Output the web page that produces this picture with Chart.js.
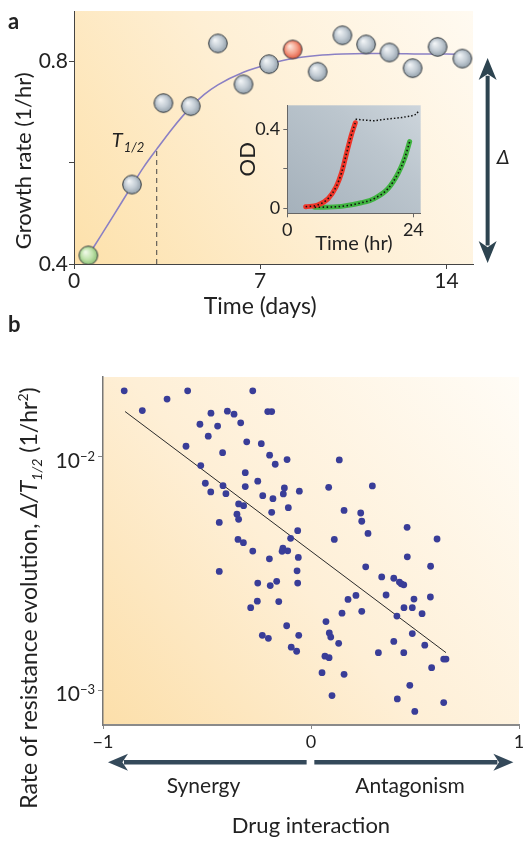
<!DOCTYPE html>
<html><head><meta charset="utf-8">
<script src="https://cdn.jsdelivr.net/npm/chart.js@4"></script>
<style>
body{margin:0;background:#fff;}
#wrap{position:relative;width:531px;height:848px;overflow:hidden;}
canvas{position:absolute;}
</style></head><body>
<div id="wrap">
<canvas id="ca" width="531" height="320" style="left:0px;top:0px"></canvas>
<canvas id="cb" width="531" height="548" style="left:0px;top:300px"></canvas>
<canvas id="ci" width="200" height="160" style="left:230px;top:95px"></canvas>
</div>
<script>
// ---------- Panel a data ----------
const days   = [2.18, 3.36, 4.39, 5.41, 6.37, 7.33, 9.16, 10.09, 10.98, 11.86, 12.73, 13.67, 14.60];
const growth = [0.557, 0.718, 0.712, 0.836, 0.755, 0.795, 0.780, 0.852, 0.834, 0.818, 0.787, 0.829, 0.806];
const firstDay = [0.54], firstGrowth = [0.417];
const pickDay = [8.22], pickGrowth = [0.824];
const fitDays   = [0.54, 1.0, 1.5, 2.18, 2.6, 3.11, 3.7, 4.39, 4.9, 5.41, 6.37, 7.33, 8.22, 9.14, 10.09, 11, 12, 13, 14, 14.6];
const fitGrowth = [0.417, 0.455, 0.497, 0.555, 0.590, 0.627, 0.668, 0.710, 0.735, 0.754, 0.779, 0.795, 0.806, 0.812, 0.815, 0.816, 0.816, 0.815, 0.815, 0.814];
const halfDay = [3.11, 3.11], halfGrowth = [0.4, 0.627];
const deltaSpan = [0.4, 0.807];
const xTicksA = [0, 7, 14], xLabelsA = ['0', '7', '14'];
const yTicksA = [0.4, 0.6, 0.8], yLabelsA = ['0.4', '', '0.8'];

// ---------- Inset data ----------
const redHr = [3.5, 5.8, 7.8, 9.3, 10.3, 11.2, 12.2, 12.95];
const redOD = [0.008, 0.017, 0.05, 0.109, 0.177, 0.269, 0.370, 0.432];
const greenHr = [5.2, 10.3, 14.1, 16.6, 19.2, 21.1, 22.35, 23.3];
const greenOD = [0.005, 0.010, 0.028, 0.05, 0.10, 0.177, 0.253, 0.337];
const plateauHr = [13.0, 14.5, 16.6, 18.5, 21.7, 23.6, 24.6, 24.9];
const plateauOD = [0.450, 0.446, 0.442, 0.449, 0.458, 0.466, 0.475, 0.488];
const xTicksI = [0, 24], xLabelsI = ['0', '24'];
const yTicksI = [0, 0.2, 0.4], yLabelsI = ['0', '', '0.4'];

// ---------- Panel b data ----------
const interaction = [-0.898,-0.593,-0.692,-0.811,-0.481,-0.534,-0.449,-0.494,-0.601,-0.530,
 -0.508,-0.482,-0.441,-0.280,-0.402,-0.370,-0.208,-0.189,-0.338,-0.309,
 -0.239,-0.425,-0.199,-0.115,-0.172,0.136,-0.316,-0.423,-0.316,-0.256,
 -0.409,-0.128,-0.133,-0.232,-0.183,-0.056,0.085,-0.348,-0.324,-0.109,
 -0.189,0.159,0.239,-0.356,-0.348,-0.064,-0.098,-0.351,0.112,0.244,
 0.274,0.462,0.606,-0.325,-0.280,-0.135,-0.139,-0.112,-0.200,-0.061,
 0.463,-0.441,-0.067,0.263,0.575,-0.256,-0.196,-0.165,-0.064,0.340,
 0.398,0.425,0.434,0.446,-0.258,-0.290,-0.155,0.178,0.216,0.361,
 0.495,0.574,0.149,0.244,0.447,0.487,0.413,0.534,0.072,-0.117,
 -0.234,-0.205,-0.059,0.088,0.095,0.133,0.487,0.398,0.547,-0.095,
 -0.069,0.324,0.446,0.067,0.087,0.638,0.649,0.580,0.053,0.159,
 0.475,0.101,0.415,0.638,0.499,0.295];
const rate = [0.0192,0.0192,0.0177,0.0158,0.0154,0.0138,0.01355,0.01227,0.01111,0.00918,
 0.00771,0.00708,0.00524,0.0192,0.0157,0.01525,0.01564,0.01564,0.0140,0.0116,
 0.0114,0.01043,0.01017,0.00974,0.00930,0.00971,0.00856,0.00753,0.00746,0.00787,
 0.00696,0.00736,0.00694,0.00682,0.00662,0.00713,0.00741,0.00629,0.00618,0.00606,
 0.00579,0.00590,0.00575,0.00568,0.00540,0.00483,0.00448,0.00443,0.00443,0.00530,
 0.00470,0.00499,0.00445,0.00429,0.00395,0.00406,0.00394,0.00396,0.00366,0.00371,
 0.00373,0.00323,0.00325,0.00338,0.00340,0.00288,0.00281,0.00293,0.00288,0.00306,
 0.00302,0.00291,0.00286,0.00283,0.00241,0.00226,0.00240,0.00245,0.00255,0.00256,
 0.00246,0.00251,0.00214,0.00218,0.00226,0.00226,0.00208,0.00213,0.00197,0.00189,
 0.00172,0.00167,0.00172,0.00176,0.00169,0.00159,0.00175,0.00162,0.00156,0.00153,
 0.00147,0.00145,0.00145,0.00140,0.00138,0.00136,0.00136,0.00125,0.00119,0.00117,
 0.00105,0.000949,0.000918,0.000886,0.000812,0.00751];
const trendX = [-0.894, 0.649], trendY = [0.01565, 0.00145];
const xTicksB = [-1, 0, 1], xLabelsB = ['\u22121', '0', '1'];
const yTicksB = [0.001, 0.01], yExpB = ['\u22123', '\u22122'];

// ---------- helpers ----------
const FF = "Lato, 'DejaVu Sans', sans-serif";
Chart.defaults.font.family = FF;
Chart.defaults.color = '#222';
const pts = (xs, ys) => xs.map((x, i) => ({x: x, y: ys[i]}));
const setTicks = vals => s => { s.ticks = vals.map(v => ({value: v})); };

function sphere(c1, c2, c3) {
  const s = document.createElement('canvas'); s.width = s.height = 22;
  const g = s.getContext('2d');
  const gr = g.createRadialGradient(8, 7.5, 0.5, 11, 11, 10);
  gr.addColorStop(0, c1); gr.addColorStop(0.55, c2); gr.addColorStop(1, c3);
  g.beginPath(); g.arc(11, 11, 9.3, 0, Math.PI * 2);
  g.fillStyle = gr; g.fill();
  g.lineWidth = 1; g.strokeStyle = '#353b40'; g.stroke();
  return s;
}
const graySphere = sphere('#f2f5f7', '#c3ccd4', '#8e9ba6');
const greenSphere = sphere('#f0f9e8', '#bfe2ab', '#86bb6f');
const redSphere = sphere('#fde6dc', '#f4a08a', '#df5138');

function arrow(ctx, ax, ay, bx, by, o) {
  const dx = bx - ax, dy = by - ay, L = Math.hypot(dx, dy), ux = dx / L, uy = dy / L;
  const hl = o.headL, hw = o.headW / 2;
  ctx.save();
  ctx.strokeStyle = ctx.fillStyle = o.color; ctx.lineWidth = o.shaft; ctx.lineCap = 'butt';
  const sa = o.both ? hl * 0.8 : 0;
  ctx.beginPath(); ctx.moveTo(ax + ux * sa, ay + uy * sa); ctx.lineTo(bx - ux * hl * 0.8, by - uy * hl * 0.8); ctx.stroke();
  const head = (tx, ty, sx, sy) => {
    ctx.beginPath(); ctx.moveTo(tx, ty);
    ctx.lineTo(tx - sx * hl - sy * hw, ty - sy * hl + sx * hw);
    ctx.lineTo(tx - sx * hl * 0.72, ty - sy * hl * 0.72);
    ctx.lineTo(tx - sx * hl + sy * hw, ty - sy * hl - sx * hw);
    ctx.closePath(); ctx.fill();
  };
  head(bx, by, ux, uy);
  if (o.both) head(ax, ay, -ux, -uy);
  ctx.restore();
}
function richText(ctx, segs, cx, cy, rot) {
  ctx.save(); ctx.translate(cx, cy); ctx.rotate(rot);
  let total = 0;
  segs.forEach(s => { ctx.font = s.font; s.w = ctx.measureText(s.t).width; total += s.w; });
  let x = -total / 2;
  ctx.textBaseline = 'alphabetic'; ctx.textAlign = 'left'; ctx.fillStyle = '#222';
  segs.forEach(s => { ctx.font = s.font; ctx.fillText(s.t, x, s.dy || 0); x += s.w; });
  ctx.restore();
}
function bgPlugin(stops, dir) {
  return {
    id: 'bg' + Math.random().toString(36).slice(2),
    beforeDraw(chart) {
      const {ctx, chartArea: a} = chart;
      const g = dir === 'lr'
        ? ctx.createLinearGradient(a.left, a.bottom, a.right, a.top - (a.right - a.left) * 0.3)
        : ctx.createLinearGradient(a.left, a.bottom, a.right, a.top);
      stops.forEach(s => g.addColorStop(s[0], s[1]));
      ctx.save(); ctx.fillStyle = g; ctx.fillRect(a.left, a.top, a.right - a.left, a.bottom - a.top); ctx.restore();
    }
  };
}
const common = {responsive: false, maintainAspectRatio: false, animation: false, devicePixelRatio: 1,
  plugins: {legend: {display: false}, tooltip: {enabled: false}}};

// ---------- Panel a ----------
const textA = {
  id: 'textA',
  afterDraw(chart) {
    const {ctx} = chart, xs = chart.scales.x, ys = chart.scales.y;
    ctx.save(); ctx.fillStyle = '#222';
    ctx.font = 'bold 22px ' + FF; ctx.textAlign = 'left'; ctx.textBaseline = 'alphabetic';
    ctx.fillText('a', 8, 29);
    ctx.font = '23px ' + FF; ctx.textAlign = 'center'; ctx.textBaseline = 'middle';
    ctx.fillText('Time (days)', xs.getPixelForValue(7), 307);
    ctx.font = '22px ' + FF;
    ctx.save(); ctx.translate(24, ys.getPixelForValue(0.6) - 2); ctx.rotate(-Math.PI / 2);
    ctx.fillText('Growth rate (1/hr)', 0, 0); ctx.restore();
    // T1/2
    const hx = xs.getPixelForValue(halfDay[0]), hy = ys.getPixelForValue(0.632);
    ctx.textAlign = 'left'; ctx.textBaseline = 'alphabetic';
    ctx.font = 'italic 20px ' + FF; ctx.fillText('T', hx - 45, hy);
    ctx.font = 'italic 13px ' + FF; ctx.fillText('1/2', hx - 33, hy + 5);
    // Delta arrow
    const ax = xs.getPixelForValue(15.55);
    arrow(ctx, ax, ys.getPixelForValue(deltaSpan[0]) - 1, ax, ys.getPixelForValue(deltaSpan[1]),
      {color: '#2d4450', shaft: 4, headW: 18, headL: 22, both: true});
    ctx.font = 'italic 20px ' + FF; ctx.fillStyle = '#222';
    ctx.fillText('\u0394', ax + 9, ys.getPixelForValue(0.612) + 7);
    ctx.restore();
  }
};
new Chart(document.getElementById('ca'), {
  type: 'scatter',
  data: {datasets: [
    {data: pts(firstDay, firstGrowth), pointStyle: greenSphere, pointRadius: 10, order: 0},
    {data: pts(pickDay, pickGrowth), pointStyle: redSphere, pointRadius: 10, order: 0},
    {data: pts(days, growth), pointStyle: graySphere, pointRadius: 10, order: 0},
    {data: pts(halfDay, halfGrowth), showLine: true, borderColor: '#444', borderWidth: 1, borderDash: [5, 4], pointRadius: 0, order: 2},
    {data: pts(fitDays, fitGrowth), showLine: true, borderColor: '#8b80c4', borderWidth: 1.6, pointRadius: 0, cubicInterpolationMode: 'monotone', order: 1}
  ]},
  options: Object.assign({}, common, {
    layout: {padding: {left: 0, right: 58, top: 9, bottom: 0}},
    scales: {
      x: {type: 'linear', min: 0, max: 15, afterBuildTicks: setTicks(xTicksA),
        afterFit: s => { s.height = 56; s.paddingLeft = 0; s.paddingRight = 0; },
        ticks: {callback: (v, i) => xLabelsA[i], font: {size: 21}, padding: 0, maxRotation: 0, autoSkip: false, color: '#222'},
        grid: {drawOnChartArea: false, tickLength: 5, color: '#444'}, border: {color: '#444', width: 1}},
      y: {type: 'linear', min: 0.4, max: 0.9, afterBuildTicks: setTicks(yTicksA),
        afterFit: s => { s.width = 74; s.paddingTop = 0; s.paddingBottom = 0; },
        ticks: {callback: (v, i) => yLabelsA[i], font: {size: 21}, padding: 1, autoSkip: false, color: '#222'},
        grid: {drawOnChartArea: false, tickLength: 5, color: '#444'}, border: {color: '#444', width: 1}}
    }
  }),
  plugins: [bgPlugin([[0, '#fde1ab'], [0.5, '#feefd4'], [1, '#fffaf1']]), textA]
});

// ---------- Inset ----------
new Chart(document.getElementById('ci'), {
  type: 'scatter',
  data: {datasets: [
    {data: pts(redHr, redOD), showLine: true, borderColor: '#111', borderWidth: 1.6, borderDash: [1.5, 2.5], pointRadius: 0, cubicInterpolationMode: 'monotone', order: 0},
    {data: pts(greenHr, greenOD), showLine: true, borderColor: '#111', borderWidth: 1.6, borderDash: [1.5, 2.5], pointRadius: 0, cubicInterpolationMode: 'monotone', order: 0},
    {data: pts(plateauHr, plateauOD), showLine: true, borderColor: '#111', borderWidth: 1.5, borderDash: [1.5, 2], pointRadius: 0, order: 0},
    {data: pts(redHr, redOD), showLine: true, borderColor: '#ee3428', borderWidth: 5, borderCapStyle: 'round', pointRadius: 0, cubicInterpolationMode: 'monotone', order: 1},
    {data: pts(greenHr, greenOD), showLine: true, borderColor: '#3fb340', borderWidth: 5, borderCapStyle: 'round', pointRadius: 0, cubicInterpolationMode: 'monotone', order: 1}
  ]},
  options: Object.assign({}, common, {
    layout: {padding: {left: 0, right: 9.3, top: 10.3, bottom: 0}},
    scales: {
      x: {type: 'linear', min: 0, max: 25.4, afterBuildTicks: setTicks(xTicksI),
        afterFit: s => { s.height = 41.7; s.paddingLeft = 0; s.paddingRight = 0; },
        ticks: {callback: (v, i) => xLabelsI[i], font: {size: 18}, padding: 2, maxRotation: 0, autoSkip: false, color: '#222'},
        grid: {drawOnChartArea: false, tickLength: 4, color: '#666'}, border: {color: '#666', width: 1},
        title: {display: true, text: 'Time (hr)', font: {size: 20}, color: '#222', padding: {top: 0, bottom: -1}}},
      y: {type: 'linear', min: -0.025, max: 0.52, afterBuildTicks: setTicks(yTicksI),
        afterFit: s => { s.width = 57.3; s.paddingTop = 0; s.paddingBottom = 0; },
        ticks: {callback: (v, i) => yLabelsI[i], font: {size: 18}, padding: 3, autoSkip: false, color: '#222'},
        grid: {drawOnChartArea: false, tickLength: 4, color: '#666'}, border: {color: '#666', width: 1},
        title: {display: true, text: 'OD', font: {size: 22}, color: '#222', padding: {top: 5, bottom: 0}}}
    }
  }),
  plugins: [bgPlugin([[0, '#a5b1bb'], [0.55, '#bcc6ce'], [1, '#d6dde3']], 'lr')]
});

// ---------- Panel b ----------
const textB = {
  id: 'textB',
  afterDraw(chart) {
    const {ctx, chartArea: a} = chart, xs = chart.scales.x, ys = chart.scales.y;
    ctx.save(); ctx.fillStyle = '#222';
    ctx.font = 'bold 22px ' + FF; ctx.textAlign = 'left'; ctx.textBaseline = 'alphabetic';
    ctx.fillText('b', 8, 32);
    // y tick labels 10^n
    yTicksB.forEach((v, i) => {
      const y = ys.getPixelForValue(v);
      ctx.font = '13px ' + FF; ctx.textAlign = 'right';
      const w = ctx.measureText(yExpB[i]).width;
      ctx.fillText(yExpB[i], a.left - 8, y + 4);
      ctx.font = '21px ' + FF;
      ctx.fillText('10', a.left - 8 - w, y + 11);
    });
    // y title
    richText(ctx, [
      {t: 'Rate of resistance evolution, ', font: '23px ' + FF},
      {t: '\u0394/T', font: 'italic 23px ' + FF},
      {t: '1/2', font: 'italic 14px ' + FF, dy: 5},
      {t: ' (1/hr', font: '23px ' + FF},
      {t: '2', font: '14px ' + FF, dy: -9},
      {t: ')', font: '23px ' + FF}
    ], 37, 298, -Math.PI / 2);
    // interaction arrows
    const ay = a.bottom + 37.3;
    const opt = {color: '#34495a', shaft: 4.5, headW: 17, headL: 20};
    arrow(ctx, xs.getPixelForValue(-0.021), ay, xs.getPixelForValue(-0.976), ay, opt);
    arrow(ctx, xs.getPixelForValue(0.016), ay, xs.getPixelForValue(0.973), ay, opt);
    ctx.font = '21px ' + FF; ctx.textAlign = 'center'; ctx.textBaseline = 'middle'; ctx.fillStyle = '#222';
    ctx.fillText('Synergy', xs.getPixelForValue(-0.517), a.bottom + 61.7);
    ctx.fillText('Antagonism', xs.getPixelForValue(0.476), a.bottom + 61.7);
    ctx.restore();
  }
};
new Chart(document.getElementById('cb'), {
  type: 'scatter',
  data: {datasets: [
    {data: pts(interaction, rate), pointRadius: 3.4, pointBackgroundColor: '#393d98', pointBorderWidth: 0, order: 0},
    {data: pts(trendX, trendY), showLine: true, borderColor: '#2a2a2a', borderWidth: 1, pointRadius: 0, order: 1}
  ]},
  options: Object.assign({}, common, {
    layout: {padding: {left: 0, right: 12, top: 77, bottom: 0}},
    scales: {
      x: {type: 'linear', min: -1, max: 1, afterBuildTicks: setTicks(xTicksB),
        afterFit: s => { s.height = 123; s.paddingLeft = 0; s.paddingRight = 0; },
        ticks: {callback: (v, i) => xLabelsB[i], font: {size: 18}, padding: 2, maxRotation: 0, autoSkip: false, color: '#222'},
        grid: {drawOnChartArea: false, tickLength: 4, color: '#888'}, border: {color: '#8a8a8a', width: 2},
        title: {display: true, text: 'Drug interaction', font: {size: 22}, color: '#222', padding: {top: 0, bottom: 9}}},
      y: {type: 'logarithmic', min: 0.00071, max: 0.022, afterBuildTicks: setTicks(yTicksB),
        afterFit: s => { s.width = 103; s.paddingTop = 0; s.paddingBottom = 0; },
        ticks: {callback: () => '', font: {size: 18}, padding: 0, autoSkip: false},
        grid: {drawOnChartArea: false, tickLength: 5, color: '#888'}, border: {color: '#777', width: 1.5}}
    }
  }),
  plugins: [bgPlugin([[0, '#fcdfaa'], [0.45, '#feefd6'], [1, '#fffcf6']]), textB]
});
</script>
</body></html>
